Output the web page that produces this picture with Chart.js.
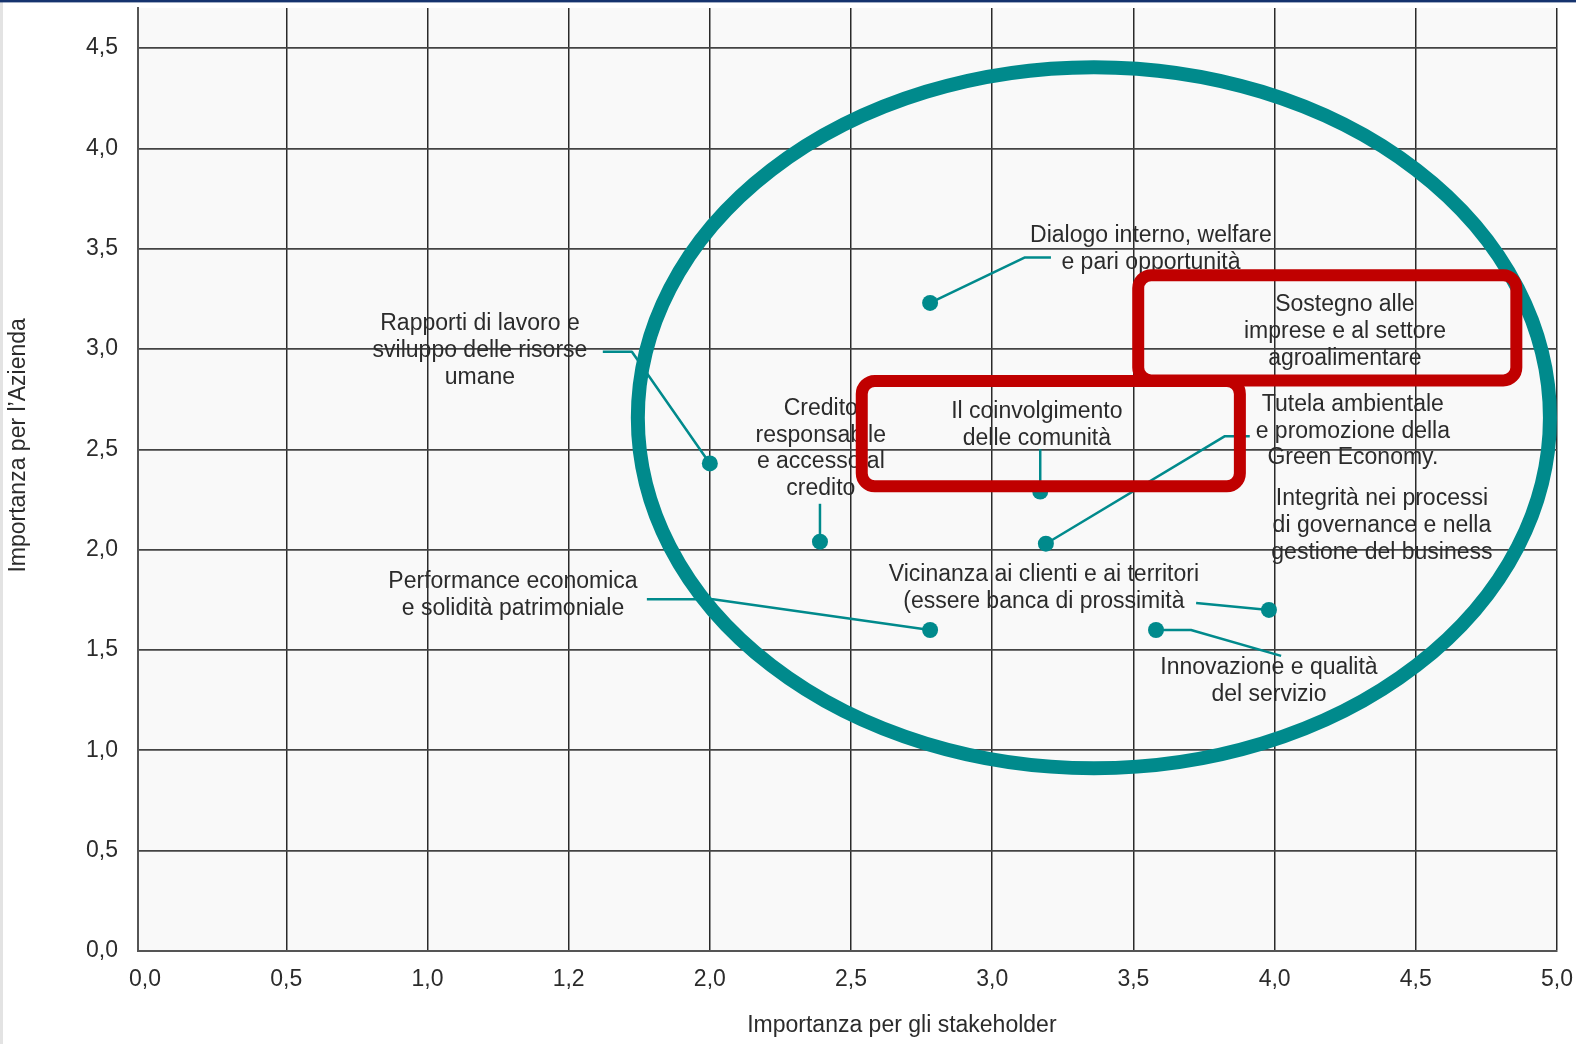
<!DOCTYPE html>
<html>
<head>
<meta charset="utf-8">
<title>Matrice di materialità</title>
<style>
  html, body { margin: 0; padding: 0; background: #ffffff; }
  #wrap { width: 1576px; height: 1044px; position: relative; }
  canvas { display: block; }
</style>
<script src="https://cdn.jsdelivr.net/npm/chart.js@4.4.1/dist/chart.umd.min.js"></script>
</head>
<body>
<div id="wrap"><canvas id="matrix" width="1576" height="1044"></canvas></div>
<script>
// ---- Data -------------------------------------------------------------
const topics = [
  'Dialogo interno, welfare e pari opportunità',
  'Rapporti di lavoro e sviluppo delle risorse umane',
  'Credito responsabile e accesso al credito',
  'Il coinvolgimento delle comunità',
  'Tutela ambientale e promozione della Green Economy',
  'Performance economica e solidità patrimoniale',
  'Vicinanza ai clienti e ai territori',
  'Innovazione e qualità del servizio'
];
// Importanza per gli stakeholder (x)
const stakeholderScores = [2.78, 2.00, 2.39, 3.17, 3.19, 2.78, 3.98, 3.58];
// Importanza per l'Azienda (y)
const companyScores     = [3.23, 2.43, 2.04, 2.29, 2.03, 1.60, 1.70, 1.60];

const xTickValues = [0, 0.5, 1, 1.5, 2, 2.5, 3, 3.5, 4, 4.5, 5];
const xTickLabels = ['0,0', '0,5', '1,0', '1,2', '2,0', '2,5', '3,0', '3,5', '4,0', '4,5', '5,0'];
const yTickValues = [0, 0.5, 1, 1.5, 2, 2.5, 3, 3.5, 4, 4.5];
const yTickLabels = ['0,0', '0,5', '1,0', '1,5', '2,0', '2,5', '3,0', '3,5', '4,0', '4,5'];

const xTitle = 'Importanza per gli stakeholder';
const yTitle = 'Importanza per l\u2019Azienda';

// ---- Callout layout (text lines, anchor and leader path in axis units) ----
const callouts = [
  { lines: ['Dialogo interno, welfare', 'e pari opportunità'], at: [3.562, 3.566], point: 0,
    path: [[3.116, 3.457], [3.208, 3.457]] },
  { lines: ['Rapporti di lavoro e', 'sviluppo delle risorse', 'umane'], at: [1.186, 3.125], point: 1,
    path: [[1.724, 2.987], [1.621, 2.987]] },
  { lines: ['Credito', 'responsabile', 'e accesso al', 'credito'], at: [2.393, 2.704], point: 2,
    path: [[2.39, 2.229]] },
  { lines: ['Il coinvolgimento', 'delle comunità'], at: [3.158, 2.689], point: 3,
    path: [[3.17, 2.501]] },
  { lines: ['Sostegno alle', 'imprese e al settore', 'agroalimentare'], at: [4.249, 3.219], point: null,
    path: [] },
  { lines: ['Tutela ambientale', 'e promozione della', 'Green Economy.'], at: [4.277, 2.724], point: 4,
    path: [[3.824, 2.566], [3.912, 2.566]] },
  { lines: ['Integrità nei processi', 'di governance e nella', 'gestione del business'], at: [4.380, 2.254], point: null,
    path: [] },
  { lines: ['Vicinanza ai clienti e ai territori', '(essere banca di prossimità'], at: [3.183, 1.877], point: 6,
    path: [[3.722, 1.734]] },
  { lines: ['Performance economica', 'e solidità patrimoniale'], at: [1.303, 1.842], point: 5,
    path: [[2.011, 1.753], [1.777, 1.753]] },
  { lines: ['Innovazione e qualità', 'del servizio'], at: [3.980, 1.412], point: 7,
    path: [[3.704, 1.60], [4.023, 1.471]] }
];

// Priority area (ellipse) and highlighted topics (rounded boxes), axis units
const priorityArea = { cx: 3.360, cy: 2.658, rx: 1.615, ry: 1.747 };
const highlightBoxes = [
  { x0: 3.517, x1: 4.856, y0: 3.368, y1: 2.844 },
  { x0: 2.538, x1: 3.877, y0: 2.841, y1: 2.316 }
];

// ---- Styles -------------------------------------------------------------
const TEAL = '#008a8c';
const RED = '#c00000';
const TEXT = '#2b2b2b';
const FONT = '"Liberation Sans", Arial, Helvetica, sans-serif';

const noEdgePadding = s => {
  s.paddingLeft = 0; s.paddingRight = 0; s.paddingTop = 0; s.paddingBottom = 0;
};

const decor = {
  id: 'decor',
  beforeDraw(chart) {
    const { ctx, chartArea: a, width, height } = chart;
    ctx.save();
    ctx.fillStyle = '#ffffff';
    ctx.fillRect(0, 0, width, height);
    ctx.fillStyle = '#f9f9f9';
    ctx.fillRect(a.left, a.top, a.right - a.left, a.bottom - a.top);
    ctx.fillStyle = '#e3e3e3';
    ctx.fillRect(0, 0, 3, height);
    ctx.restore();
  },
  beforeDatasetsDraw(chart) {
    const { ctx, scales: { x, y } } = chart;
    ctx.save();
    // priority ellipse
    const cx = x.getPixelForValue(priorityArea.cx);
    const cy = y.getPixelForValue(priorityArea.cy);
    const rx = x.getPixelForValue(priorityArea.cx + priorityArea.rx) - cx;
    const ry = cy - y.getPixelForValue(priorityArea.cy + priorityArea.ry);
    ctx.beginPath();
    ctx.ellipse(cx, cy, rx, ry, 0, 0, Math.PI * 2);
    ctx.lineWidth = 14;
    ctx.strokeStyle = TEAL;
    ctx.stroke();

    // leader lines
    ctx.lineWidth = 2.5;
    ctx.strokeStyle = TEAL;
    ctx.lineJoin = 'round';
    callouts.forEach(c => {
      if (c.point === null || !c.path.length) return;
      ctx.beginPath();
      ctx.moveTo(x.getPixelForValue(stakeholderScores[c.point]), y.getPixelForValue(companyScores[c.point]));
      c.path.forEach(([px, py]) => ctx.lineTo(x.getPixelForValue(px), y.getPixelForValue(py)));
      ctx.stroke();
    });
    ctx.restore();
  },
  afterDatasetsDraw(chart) {
    const { ctx, scales: { x, y }, width } = chart;
    ctx.save();
    // callout texts
    ctx.font = '23px ' + FONT;
    ctx.fillStyle = TEXT;
    ctx.textAlign = 'center';
    ctx.textBaseline = 'middle';
    const lh = 26.8;
    callouts.forEach(c => {
      const px = x.getPixelForValue(c.at[0]);
      const py = y.getPixelForValue(c.at[1]);
      c.lines.forEach((t, i) => ctx.fillText(t, px, py + i * lh));
    });

    // highlighted topics
    ctx.lineWidth = 12;
    ctx.strokeStyle = RED;
    highlightBoxes.forEach(b => {
      const l = x.getPixelForValue(b.x0), r = x.getPixelForValue(b.x1);
      const t = y.getPixelForValue(b.y0), bt = y.getPixelForValue(b.y1);
      ctx.beginPath();
      ctx.roundRect(l, t, r - l, bt - t, 13);
      ctx.stroke();
    });

    // axis titles
    ctx.font = '23px ' + FONT;
    ctx.fillStyle = TEXT;
    ctx.textAlign = 'center';
    ctx.textBaseline = 'middle';
    ctx.fillText(xTitle, x.getPixelForValue(2.68), 1026);
    ctx.translate(19, y.getPixelForValue(2.52));
    ctx.rotate(-Math.PI / 2);
    ctx.fillText(yTitle, 0, 0);
    ctx.setTransform(1, 0, 0, 1, 0, 0);

    // top rule
    ctx.fillStyle = '#15336e';
    ctx.fillRect(0, 0, width, 2.4);
    ctx.restore();
  }
};

new Chart(document.getElementById('matrix'), {
  type: 'scatter',
  data: {
    labels: topics,
    datasets: [{
      label: 'Temi materiali',
      data: stakeholderScores.map((v, i) => ({ x: v, y: companyScores[i] })),
      backgroundColor: TEAL,
      borderWidth: 0,
      pointRadius: 8,
      pointHoverRadius: 8
    }]
  },
  options: {
    responsive: false,
    animation: false,
    devicePixelRatio: 1,
    layout: { padding: { top: -4, right: 19, left: 0, bottom: 0 } },
    plugins: { legend: { display: false }, tooltip: { enabled: false } },
    events: [],
    scales: {
      x: {
        type: 'linear',
        min: -0.025,
        max: 5,
        afterBuildTicks: s => { s.ticks = xTickValues.map(v => ({ value: v })); },
        afterFit: s => { s.height = 93; noEdgePadding(s); },
        ticks: {
          autoSkip: false,
          maxRotation: 0,
          padding: 15,
          color: TEXT,
          font: { family: FONT, size: 23 },
          callback: (v, i) => xTickLabels[i]
        },
        grid: {
          drawTicks: false,
          lineWidth: 1.5,
          color: c => (c.tick && c.tick.value === 0) ? 'rgba(0,0,0,0)' : '#2a2a2a'
        },
        border: { display: true, color: '#555555', width: 2 }
      },
      y: {
        type: 'linear',
        min: 0,
        max: 4.7,
        afterBuildTicks: s => { s.ticks = yTickValues.map(v => ({ value: v })); },
        afterFit: s => { s.width = 138; noEdgePadding(s); },
        ticks: {
          padding: 20,
          color: TEXT,
          font: { family: FONT, size: 23 },
          callback: (v, i) => yTickLabels[i]
        },
        grid: {
          drawTicks: false,
          lineWidth: 1.8,
          color: c => (c.tick && c.tick.value === 0) ? 'rgba(0,0,0,0)' : '#444444'
        },
        border: { display: true, color: '#555555', width: 2 }
      }
    }
  },
  plugins: [decor]
});
</script>
</body>
</html>
